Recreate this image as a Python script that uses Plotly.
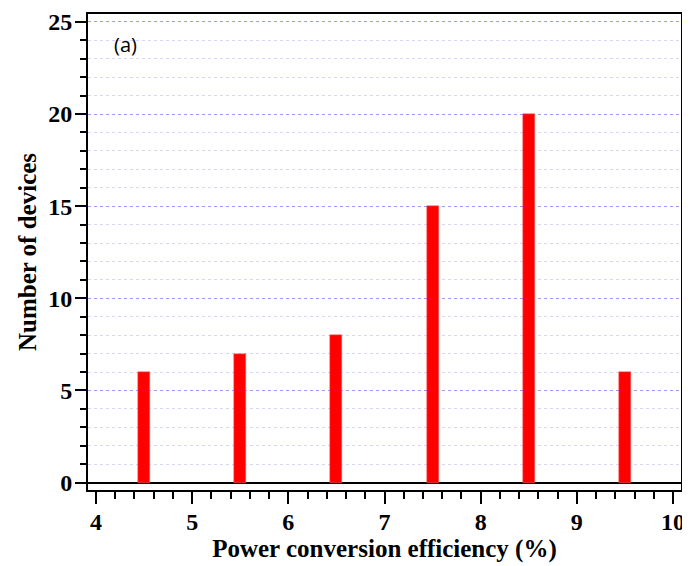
import plotly.graph_objects as go

efficiency_bins = [4.5, 5.5, 6.5, 7.5, 8.5, 9.5]
device_counts = [6, 7, 8, 15, 20, 6]
x_tick_values = [4, 5, 6, 7, 8, 9, 10]
y_tick_values = [0, 5, 10, 15, 20, 25]

serif_bold = dict(family="Liberation Serif", size=24, color="black", weight="bold")
title_font = dict(family="Liberation Serif", size=25, color="black", weight="bold")

fig = go.Figure()
fig.add_trace(go.Bar(
    x=efficiency_bins, y=device_counts, width=0.125,
    marker=dict(color="#ff0000", line=dict(color="#ff6666", width=0.5)),
    showlegend=False,
))

# page body adds an 8px offset, so the figure is sized to fit the window
fig.update_layout(
    width=682, height=558,
    margin=dict(l=80, r=9, t=6, b=76),
    paper_bgcolor="white", plot_bgcolor="white",
    bargap=0,
    annotations=[dict(
        text="(a)", xref="paper", yref="paper", x=0.040, y=0.935,
        xanchor="left", yanchor="middle", showarrow=False,
        font=dict(family="Open Sans", size=20, color="black"),
    )],
)

fig.update_xaxes(
    range=[3.917, 10.083], tickvals=x_tick_values, automargin=False,
    showline=True, linecolor="black", linewidth=2, mirror=True,
    ticks="outside", ticklen=12, tickwidth=2, tickcolor="black",
    minor=dict(dtick=0.2, ticks="outside", ticklen=7, tickwidth=1.5, tickcolor="black", showgrid=False),
    showgrid=False, zeroline=False,
    tickfont=serif_bold, ticklabelstandoff=-3,
    title=dict(text="Power conversion efficiency (%)", font=title_font, standoff=5),
)

fig.update_yaxes(
    range=[-0.4, 25.43], tickvals=y_tick_values, automargin=False,
    showline=True, linecolor="black", linewidth=2, mirror=True,
    ticks="outside", ticklen=11, tickwidth=2, tickcolor="black",
    showgrid=True, gridcolor="#9999ff", gridwidth=1, griddash="dot",
    minor=dict(dtick=1, ticks="outside", ticklen=6, tickwidth=1.5, tickcolor="black",
               showgrid=True, gridcolor="#d6d6f5", gridwidth=1, griddash="dot"),
    zeroline=True, zerolinecolor="black", zerolinewidth=2,
    tickfont=serif_bold, ticklabelstandoff=-2,
    title=dict(text="Number of devices", font=title_font, standoff=4),
)

fig.write_html("out.html")
